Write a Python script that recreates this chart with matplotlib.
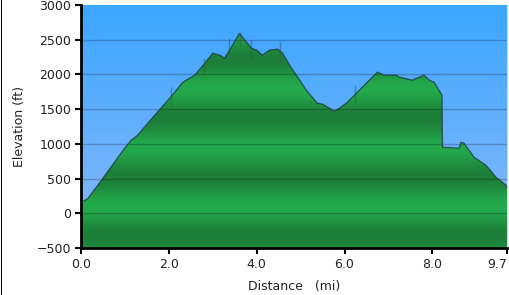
import numpy as np
import matplotlib
matplotlib.use("Agg")
import matplotlib.pyplot as plt
from matplotlib.lines import Line2D

# ---- data ----
dist = [0.0, 0.16, 0.5, 0.68, 0.91, 1.14, 1.29, 1.52, 1.82, 2.04, 2.32, 2.59, 2.82,
        3.0, 3.16, 3.27, 3.38, 3.61, 3.73, 3.88, 4.0, 4.13, 4.29, 4.48, 4.59, 4.75,
        4.98, 5.13, 5.38, 5.5, 5.66, 5.77, 5.88, 6.04, 6.27, 6.52, 6.75, 6.9, 7.18,
        7.25, 7.54, 7.81, 7.93, 8.04, 8.22, 8.23, 8.61, 8.65, 8.72, 8.95, 9.22, 9.45,
        9.68, 9.7]
elev = [150, 216, 504, 663, 865, 1052, 1124, 1297, 1513, 1671, 1888, 1989, 2162,
        2306, 2277, 2234, 2349, 2590, 2493, 2378, 2349, 2277, 2349, 2363, 2306, 2133,
        1917, 1772, 1585, 1571, 1513, 1470, 1513, 1585, 1729, 1888, 2032, 1989, 1989,
        1960, 1917, 1989, 1917, 1888, 1700, 951, 937, 1023, 1009, 807, 692, 519,
        403, 375]

marker_dist = [2.04, 2.79, 3.38, 3.61, 3.88, 4.52, 6.25]
marker_top = [1815, 2234, 2522, 2608, 2493, 2464, 1844]
marker_bottom = [1528, 2017, 2277, 2421, 2205, 2162, 1585]

x_ticks = [0.0, 2.0, 4.0, 6.0, 8.0, 9.7]
x_ticklabels = ["0.0", "2.0", "4.0", "6.0", "8.0", "9.7"]
y_ticks = [-500, 0, 500, 1000, 1500, 2000, 2500, 3000]

xmin, xmax = 0.0, 9.7
ymin, ymax = -500, 3000

plt.rcParams['font.family'] = ['DejaVu Sans']

fig = plt.figure(figsize=(5.1, 2.95), dpi=100)
ax = fig.add_axes([81/510, 47/295, 426/510, 243/295])
ax.set_xlim(xmin, xmax)
ax.set_ylim(ymin, ymax)

# background gradient (blue)
top = np.array([58, 166, 255]) / 255
bot = np.array([140, 185, 250]) / 255
t = np.linspace(0, 1, 256)[:, None]
bg = top[None, :] * (1 - t) + bot[None, :] * t
bg = np.repeat(bg[:, None, :], 2, axis=1)
ax.imshow(bg, extent=[xmin, xmax, ymin, ymax], origin='upper', aspect='auto',
          zorder=0, interpolation='bilinear')

# green fill with banded gradient
poly = ax.fill_between(dist, elev, ymin, color='none', lw=0, zorder=1)
ys = np.linspace(ymax, ymin, 700)
light = np.array([35, 170, 76]) / 255
dark = np.array([28, 126, 56]) / 255
w = 0.5 + 0.5 * np.cos(2 * np.pi * (ys - 100) / 850)
g = dark[None, :] * (1 - w[:, None]) + light[None, :] * w[:, None]
g = np.repeat(g[:, None, :], 2, axis=1)
im = ax.imshow(g, extent=[xmin, xmax, ymin, ymax], origin='upper', aspect='auto',
               zorder=1, interpolation='bilinear')
im.set_clip_path(poly.get_paths()[0], transform=ax.transData)

# grid
for yv in y_ticks[1:-1]:
    ax.axhline(yv, color='black', alpha=0.22, lw=1.0, zorder=2)

# profile outline
ax.plot(dist, elev, color='#1e3a3c', alpha=0.75, lw=1.0, zorder=3)

# markers
ax.vlines(marker_dist, marker_bottom, marker_top, color='#3a5050', alpha=0.45,
          lw=1.0, zorder=3)

# spines and ticks
ax.spines['top'].set_visible(False)
ax.spines['right'].set_color('#d0d8e0')
ax.spines['right'].set_linewidth(0.8)
ax.spines['left'].set_linewidth(2.0)
ax.spines['bottom'].set_linewidth(2.0)
ax.set_xticks(x_ticks)
ax.set_xticklabels(x_ticklabels)
ax.set_yticks(y_ticks)
ax.tick_params(axis='both', direction='out', length=4, width=1.5, labelsize=9,
               colors='black', labelcolor='#222222')
ax.tick_params(axis='y', pad=3)
ax.tick_params(axis='x', pad=3)
last = ax.get_xticklabels()[-1]
last.set_horizontalalignment('right')
last.set_x(xmax)

ax.set_xlabel("Distance   (mi)", fontsize=9, color='#222222', labelpad=7)
ax.set_ylabel("Elevation (ft)", fontsize=9, color='#222222', labelpad=8)

# left border line of the image
fig.add_artist(Line2D([0.5/510, 0.5/510], [0, 1], color='black', lw=0.72,
                      antialiased=False, transform=fig.transFigure))

fig.savefig("out.png", dpi=100)
